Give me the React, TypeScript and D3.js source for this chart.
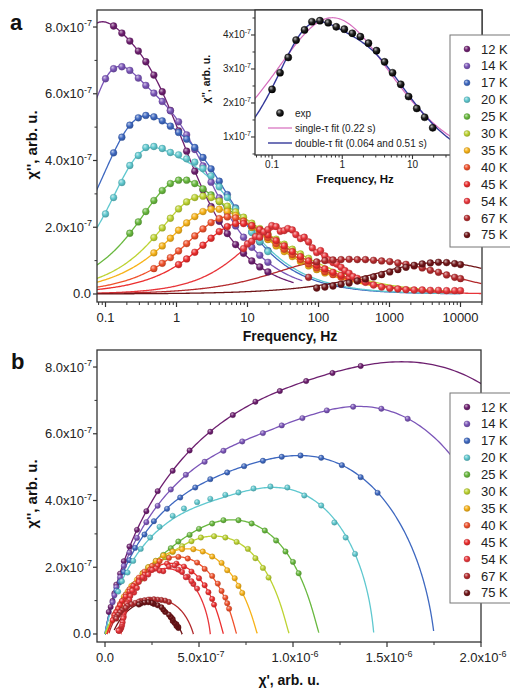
import React from 'react';
import * as d3 from 'd3';

const TEMPS = ['12 K', '14 K', '17 K', '20 K', '25 K', '30 K', '35 K', '40 K', '45 K', '54 K', '67 K', '75 K'];
const COLORS = ['#6d1f6f', '#7b55b8', '#3e68c0', '#5fc8cf', '#68b83e', '#bdd332', '#f7b218', '#f0512b', '#ec2d2d', '#e8353a', '#b3292c', '#6f1417'];

// measurement frequencies (Hz)
const FREQS = [0.1, 0.13, 0.17, 0.22, 0.29, 0.37, 0.48, 0.63, 0.82, 1.07, 1.39, 1.81, 2.36, 3.07, 4.0, 5.2, 6.8, 8.8, 11.5, 14.9, 19.4, 25.3, 32.9, 42.8, 55.7, 72.5, 94.3, 123, 160, 208, 270, 352, 458, 596, 775, 1009, 1313, 1708, 2222, 2891, 3761, 4894, 6367, 8284, 10000];

// chi'' (x1e-7) and chi' (x1e-6) of every measured point; first frequency index in FREQS_START
const Q12 = [8.03, 7.82, 7.58, 7.28, 6.96, 6.56, 6.06, 5.50, 4.89, 4.28, 3.68, 3.12, 2.62, 2.18, 1.81, 1.48, 1.22, 0.99, 0.81, 0.66];
const P12 = [1.36, 1.21, 1.07, 0.93, 0.80, 0.68, 0.56, 0.45, 0.36, 0.28, 0.22, 0.17, 0.13, 0.10, 0.08, 0.06, 0.05, 0.04, 0.03, 0.02];
const Q14 = [6.45, 6.75, 6.81, 6.70, 6.47, 6.25, 6.02, 5.77, 5.49, 5.16, 4.77, 4.33, 3.84, 3.35, 2.88, 2.44, 2.04, 1.70, 1.40, 1.16, 0.95];
const P14 = [1.61, 1.47, 1.32, 1.18, 1.05, 0.94, 0.84, 0.73, 0.63, 0.53, 0.43, 0.35, 0.28, 0.22, 0.17, 0.13, 0.10, 0.08, 0.06, 0.05, 0.04];
const Q17 = [4.23, 4.70, 5.06, 5.28, 5.35, 5.31, 5.19, 5.03, 4.84, 4.64, 4.39, 4.09, 3.75, 3.38, 2.98, 2.58, 2.21, 1.86, 1.56, 1.30];
const P17 = [1.45, 1.36, 1.26, 1.15, 1.04, 0.94, 0.84, 0.74, 0.65, 0.56, 0.48, 0.40, 0.33, 0.26, 0.21, 0.16, 0.13, 0.10, 0.08, 0.06];
const Q20 = [2.40, 2.89, 3.34, 3.85, 4.15, 4.39, 4.42, 4.36, 4.24, 4.17, 4.05, 3.95, 3.76, 3.54, 3.21, 2.89, 2.55, 2.19, 1.84, 1.58, 1.27];
const P20 = [1.33, 1.28, 1.22, 1.15, 1.06, 0.97, 0.88, 0.79, 0.71, 0.64, 0.56, 0.49, 0.42, 0.36, 0.29, 0.24, 0.19, 0.15, 0.12, 0.09, 0.07];
const Q25 = [1.82, 2.16, 2.47, 2.80, 3.10, 3.31, 3.41, 3.41, 3.31, 3.15, 2.97, 2.77, 2.57, 2.37, 2.19, 2.00, 1.82, 1.64, 1.47, 1.32, 1.17];
const P25 = [1.03, 1.00, 0.96, 0.91, 0.85, 0.78, 0.71, 0.63, 0.57, 0.50, 0.45, 0.39, 0.35, 0.31, 0.27, 0.23, 0.20, 0.18, 0.15, 0.13, 0.11];
const Q30 = [1.69, 1.98, 2.27, 2.55, 2.76, 2.89, 2.93, 2.89, 2.78, 2.63, 2.46, 2.30, 2.12, 1.96, 1.80, 1.64, 1.49, 1.34, 1.20, 1.07];
const P30 = [0.87, 0.84, 0.80, 0.76, 0.70, 0.64, 0.58, 0.51, 0.46, 0.41, 0.36, 0.32, 0.28, 0.25, 0.22, 0.19, 0.16, 0.14, 0.12, 0.10];
const Q35 = [1.23, 1.44, 1.67, 1.91, 2.13, 2.32, 2.47, 2.54, 2.54, 2.47, 2.35, 2.19, 2.00, 1.82, 1.63, 1.44, 1.27, 1.12, 0.97, 0.84, 0.73, 0.63];
const P35 = [0.73, 0.71, 0.69, 0.65, 0.62, 0.57, 0.52, 0.47, 0.41, 0.36, 0.31, 0.27, 0.23, 0.20, 0.17, 0.14, 0.12, 0.10, 0.09, 0.08, 0.07, 0.06];
const Q40 = [0.76, 0.92, 1.09, 1.29, 1.51, 1.74, 1.95, 2.14, 2.26, 2.31, 2.28, 2.18, 2.04, 1.87, 1.69, 1.51, 1.34, 1.18, 1.03, 0.90, 0.78, 0.67, 0.58, 0.50];
const P40 = [0.66, 0.65, 0.64, 0.62, 0.60, 0.57, 0.53, 0.49, 0.44, 0.39, 0.34, 0.29, 0.25, 0.21, 0.18, 0.16, 0.13, 0.11, 0.10, 0.08, 0.07, 0.06, 0.05, 0.05];
const Q45 = [0.88, 1.05, 1.25, 1.46, 1.67, 1.87, 2.02, 2.11, 2.11, 2.05, 1.93, 1.77, 1.60, 1.44, 1.27, 1.12, 0.99, 0.86, 0.75, 0.65, 0.56, 0.48, 0.41];
const P45 = [0.58, 0.57, 0.55, 0.53, 0.50, 0.46, 0.42, 0.38, 0.33, 0.28, 0.24, 0.21, 0.18, 0.15, 0.13, 0.11, 0.09, 0.08, 0.07, 0.06, 0.05, 0.05, 0.04];
const Q67 = [0.50, 0.96, 1.00, 1.02, 1.03, 1.04, 1.03, 1.03, 1.01, 0.99, 0.97, 0.93, 0.89, 0.84, 0.78, 0.71, 0.65, 0.57, 0.50, 0.46];
const P67 = [0.35, 0.34, 0.32, 0.30, 0.28, 0.26, 0.24, 0.23, 0.21, 0.19, 0.18, 0.16, 0.14, 0.12, 0.11, 0.09, 0.08, 0.07, 0.06, 0.06];
const Q75 = [0.18, 0.21, 0.24, 0.29, 0.33, 0.39, 0.45, 0.51, 0.58, 0.66, 0.73, 0.80, 0.86, 0.90, 0.93, 0.95, 0.94, 0.91, 0.88];
const P75 = [0.39, 0.39, 0.38, 0.38, 0.37, 0.36, 0.36, 0.35, 0.34, 0.32, 0.31, 0.30, 0.28, 0.26, 0.25, 0.23, 0.21, 0.19, 0.18];
// 54 K: two overlapping sweeps
const F54 = [8.8, 10, 11.5, 13, 14.9, 17, 19.4, 22, 25.3, 29, 32.9, 37, 42.8, 48, 55.7, 63, 72.5, 82, 94.3, 107, 123, 139, 160, 181, 208, 236, 270, 307, 352, 458, 596, 775, 1009, 1313, 1708, 2222, 2891, 3761, 4894, 6367, 8284, 10000];
const Q54 = [1.36, 1.50, 1.58, 1.72, 1.70, 1.86, 1.93, 2.05, 2.02, 1.88, 1.90, 1.96, 1.92, 1.78, 1.66, 1.70, 1.56, 1.38, 1.24, 1.30, 1.14, 1.02, 0.94, 0.90, 0.80, 0.70, 0.62, 0.52, 0.47, 0.35, 0.27, 0.21, 0.17, 0.15, 0.13, 0.12, 0.12, 0.11, 0.11, 0.10, 0.10, 0.10];
const P54 = [0.49, 0.47, 0.46, 0.44, 0.43, 0.41, 0.39, 0.37, 0.34, 0.31, 0.29, 0.27, 0.25, 0.23, 0.21, 0.20, 0.18, 0.17, 0.155, 0.145, 0.135, 0.13, 0.12, 0.115, 0.11, 0.105, 0.10, 0.10, 0.097, 0.094, 0.091, 0.088, 0.085, 0.083, 0.081, 0.079, 0.077, 0.076, 0.075, 0.074, 0.073, 0.072];

const Q_LIST = [Q12, Q14, Q17, Q20, Q25, Q30, Q35, Q40, Q45, Q54, Q67, Q75];
const P_LIST = [P12, P14, P17, P20, P25, P30, P35, P40, P45, P54, P67, P75];
const FREQS_START = [1, 0, 1, 0, 3, 6, 6, 6, 9, -1, 25, 26];

// two-process Cole-Cole fit parameters
const D_SLOW = [1.43e-6, 1.08e-6, 0.95e-6, 0.65e-6, 0.47e-6, 0.40e-6, 0.40e-6, 0.345e-6, 0.31e-6, 0.475e-6, 0.24e-6, 0.37e-6];
const F_SLOW = [0.058, 0.115, 0.25, 0.312, 0.92, 1.77, 2.9, 4.6, 6.9, 28, 100, 5000];
const B_SLOW = [0.88, 0.95, 0.88, 0.95, 0.92, 0.92, 0.85, 0.9, 0.92, 0.88, 0.7, 0.6];
const D_FAST = [1.25e-6, 1.08e-6, 0.80e-6, 0.78e-6, 0.67e-6, 0.58e-6, 0.40e-6, 0.345e-6, 0.31e-6, 0, 0.21e-6, 0];
const F_FAST = [0.46, 0.95, 2.0, 2.49, 4.6, 8.8, 7.3, 11.5, 17.3, 1, 1500, 1];
const B_FAST = [0.8, 0.8, 0.8, 0.78, 0.6, 0.6, 0.62, 0.62, 0.62, 1, 0.7, 1];
const CHI_S = [0, 0, 0, 0, 0, 0, 0.01e-6, 0.01e-6, 0.01e-6, 0.085e-6, 0.02e-6, 0.04e-6];
const FIT_FMAX = [45, 60, 10000, 10000, 10000, 10000, 10000, 10000, 10000, 20000, 20000, 20000];

// inset (20 K): single- and double-tau fits
const SINGLE = [{ d: 16.1e-7, tau: 0.22, b: 0.65 }];
const DOUBLE = [{ d: 6.5e-7, tau: 0.51, b: 0.95 }, { d: 7.8e-7, tau: 0.064, b: 0.78 }];

const FONT = "'Liberation Sans', Arial, Helvetica, sans-serif";

function cc(f: number, d: number, tau: number, b: number): [number, number] {
  const u = Math.pow(2 * Math.PI * f * tau, b);
  const c = Math.cos((b * Math.PI) / 2), s = Math.sin((b * Math.PI) / 2);
  const den = 1 + 2 * u * c + u * u;
  return [(d * (1 + u * c)) / den, (d * u * s) / den];
}
function fit(i: number, f: number): [number, number] {
  const p = cc(f, D_SLOW[i], 1 / (2 * Math.PI * F_SLOW[i]), B_SLOW[i]);
  const q = D_FAST[i] > 0 ? cc(f, D_FAST[i], 1 / (2 * Math.PI * F_FAST[i]), B_FAST[i]) : [0, 0];
  return [CHI_S[i] + p[0] + q[0], p[1] + q[1]];
}
function sumCC(f: number, list: { d: number; tau: number; b: number }[]) {
  return list.reduce((s, p) => s + cc(f, p.d, p.tau, p.b)[1], 0);
}

const A = { l: 97, r: 482, t: 10, b: 302 };
const xA = d3.scaleLog().domain([Math.pow(10, -1.1197), Math.pow(10, 4.3028)]).range([A.l, A.r]);
const yA = d3.scaleLinear().domain([-0.24e-7, 8.51e-7]).range([A.b, A.t]);
const I = { l: 255, r: 482, t: 10, b: 155 };
const xI = d3.scaleLog().domain([Math.pow(10, -1.243), Math.pow(10, 1.99)]).range([I.l, I.r]);
const yI = d3.scaleLinear().domain([0.47e-7, 4.735e-7]).range([I.b, I.t]);
const B = { l: 97, r: 481, t: 350, b: 642 };
const xB = d3.scaleLinear().domain([-0.0426e-6, 2.0e-6]).range([B.l, B.r]);
const yB = d3.scaleLinear().domain([-0.24e-7, 8.51e-7]).range([B.b, B.t]);

const AX = '#333';

function logTicks(lo: number, hi: number) {
  const major: number[] = [], minor: number[] = [];
  for (let e = -3; e <= 5; e++) {
    for (let m = 1; m < 10; m++) {
      const v = m * Math.pow(10, e);
      if (v >= lo * 0.999 && v <= hi * 1.001) (m === 1 ? major : minor).push(v);
    }
  }
  return { major, minor };
}

function SciLabel({ x, y, m, e, anchor, fs, sfs }: any) {
  return (
    <text x={x} y={y} textAnchor={anchor} fontSize={fs} fill="#222">
      {m}
      <tspan dy={-fs * 0.42} fontSize={sfs}>{e}</tspan>
    </text>
  );
}

function Marker({ cx, cy, r, i, black }: any) {
  return <circle cx={cx} cy={cy} r={r} fill={black ? 'url(#gblack)' : `url(#g${i})`} stroke={black ? '#000' : d3.color(COLORS[i])!.darker(0.7).toString()} strokeWidth={0.4} />;
}

function Legend({ x, y, h }: any) {
  return (
    <g>
      <rect x={x} y={y} width={90} height={h} fill="#fff" stroke="#777" strokeWidth={1} />
      {TEMPS.map((t, i) => (
        <g key={t}>
          <Marker cx={x + 17} cy={y + 14 + i * 16.9} r={3} i={i} />
          <text x={x + 31} y={y + 18.5 + i * 16.9} fontSize={13} fill="#222">{t}</text>
        </g>
      ))}
    </g>
  );
}

export default function App() {
  const ytA = [0, 2e-7, 4e-7, 6e-7, 8e-7];
  const ytAm = [1e-7, 3e-7, 5e-7, 7e-7];
  const lA = logTicks(xA.domain()[0], xA.domain()[1]);
  const lI = logTicks(xI.domain()[0], xI.domain()[1]);

  const sampA = d3.range(0, 401).map((j) => Math.pow(10, -1.13 + (j * (4.32 + 1.13)) / 400));
  const sampB = d3.range(0, 801).map((j) => Math.pow(10, -3 + (j * 9) / 800));
  const sampI = d3.range(0, 201).map((j) => Math.pow(10, -1.26 + (j * 3.3) / 200));

  const lineA = d3.line<number[]>().x((d) => xA(d[0])).y((d) => yA(d[1]));
  const lineB = d3.line<number[]>().x((d) => xB(d[0])).y((d) => yB(d[1]));
  const lineI = d3.line<number[]>().x((d) => xI(d[0])).y((d) => yI(d[1]));

  // points: [frequency, chi', chi'']
  const points = TEMPS.map((_, i) => Q_LIST[i].map((q, j) => {
    const f = FREQS_START[i] < 0 ? F54[j] : FREQS[FREQS_START[i] + j];
    return [f, P_LIST[i][j] * 1e-6, q * 1e-7];
  }));

  const singleCurve = sampI.map((f) => [f, sumCC(f, SINGLE)]);
  const doubleCurve = sampI.map((f) => [f, sumCC(f, DOUBLE)]);

  return (
    <svg width={510} height={689} style={{ position: 'absolute', left: 0, top: 0, background: '#fff' }} fontFamily={FONT}>
      <defs>
        {COLORS.map((c, i) => (
          <radialGradient key={i} id={`g${i}`} cx="40%" cy="38%" r="62%" fx="35%" fy="30%">
            <stop offset="0%" stopColor={d3.interpolateRgb(c, '#fff')(0.65)} />
            <stop offset="55%" stopColor={c} />
            <stop offset="100%" stopColor={d3.color(c)!.darker(0.6).toString()} />
          </radialGradient>
        ))}
        <radialGradient id="gblack" cx="40%" cy="38%" r="62%" fx="35%" fy="30%">
          <stop offset="0%" stopColor="#bbb" />
          <stop offset="50%" stopColor="#222" />
          <stop offset="100%" stopColor="#000" />
        </radialGradient>
        <clipPath id="clipA"><rect x={A.l} y={A.t} width={A.r - A.l} height={A.b - A.t} /></clipPath>
        <clipPath id="clipB"><rect x={B.l} y={B.t} width={B.r - B.l} height={B.b - B.t} /></clipPath>
        <clipPath id="clipI"><rect x={I.l} y={I.t} width={I.r - I.l} height={I.b - I.t} /></clipPath>
      </defs>

      <text x={10} y={30} fontSize={22} fontWeight="bold" fill="#111">a</text>
      <g clipPath="url(#clipA)">
        {TEMPS.map((_, i) => {
          const pts = sampA.filter((f) => f <= FIT_FMAX[i]).map((f) => [f, fit(i, f)[1]]);
          return <path key={i} d={lineA(pts)!} fill="none" stroke={COLORS[i]} strokeWidth={1.3} />;
        })}
        {points.map((ms, i) => ms.map((m, j) => <Marker key={`${i}-${j}`} cx={xA(m[0])} cy={yA(m[2])} r={3.4} i={i} />))}
      </g>
      <rect x={A.l} y={A.t} width={A.r - A.l} height={A.b - A.t} fill="none" stroke={AX} strokeWidth={1.3} />
      {ytA.map((v) => (
        <g key={v}>
          <line x1={A.l - 4} x2={A.l} y1={yA(v)} y2={yA(v)} stroke={AX} strokeWidth={1.2} />
          {v === 0 ? (
            <text x={91} y={yA(v) + 4.5} textAnchor="end" fontSize={13} fill="#222">0.0</text>
          ) : (
            <SciLabel x={92} y={yA(v) + 4.5} m={`${(v * 1e7).toFixed(1)}x10`} e="-7" anchor="end" fs={13} sfs={9} />
          )}
        </g>
      ))}
      {ytAm.map((v) => <line key={v} x1={A.l - 2.5} x2={A.l} y1={yA(v)} y2={yA(v)} stroke={AX} strokeWidth={1} />)}
      {lA.major.map((v) => (
        <g key={v}>
          <line x1={xA(v)} x2={xA(v)} y1={A.b} y2={A.b + 5} stroke={AX} strokeWidth={1.2} />
          <text x={xA(v)} y={A.b + 20} textAnchor="middle" fontSize={13} fill="#222">{v < 1 ? v.toString() : d3.format('d')(v)}</text>
        </g>
      ))}
      {lA.minor.map((v) => <line key={v} x1={xA(v)} x2={xA(v)} y1={A.b} y2={A.b + 3} stroke={AX} strokeWidth={1} />)}
      <text x={290} y={341} textAnchor="middle" fontSize={14} fontWeight="bold" fill="#111">Frequency, Hz</text>
      <text transform="translate(37,145) rotate(-90)" textAnchor="middle" fontSize={15} fontWeight="bold" fill="#111">χ'', arb. u.</text>

      <rect x={I.l} y={I.t} width={I.r - I.l} height={I.b - I.t} fill="#fff" />
      <g clipPath="url(#clipI)">
        <path d={lineI(singleCurve)!} fill="none" stroke="#d56bbd" strokeWidth={1.2} />
        <path d={lineI(doubleCurve)!} fill="none" stroke="#34389a" strokeWidth={1.4} />
        {Q20.map((v, k) => <Marker key={k} cx={xI(FREQS[k])} cy={yI(v * 1e-7)} r={3.6} black />)}
      </g>
      <rect x={I.l} y={I.t} width={I.r - I.l} height={I.b - I.t} fill="none" stroke={AX} strokeWidth={1.3} />
      {[1, 2, 3, 4].map((v) => (
        <g key={v}>
          <line x1={I.l - 4} x2={I.l} y1={yI(v * 1e-7)} y2={yI(v * 1e-7)} stroke={AX} strokeWidth={1.1} />
          <SciLabel x={251} y={yI(v * 1e-7) + 3.5} m={`${v}x10`} e="-7" anchor="end" fs={10} sfs={7} />
        </g>
      ))}
      {[0.5, 1.5, 2.5, 3.5, 4.5].map((v) => <line key={v} x1={I.l - 2.5} x2={I.l} y1={yI(v * 1e-7)} y2={yI(v * 1e-7)} stroke={AX} strokeWidth={1} />)}
      {lI.major.map((v) => (
        <g key={v}>
          <line x1={xI(v)} x2={xI(v)} y1={I.b} y2={I.b + 4} stroke={AX} strokeWidth={1.1} />
          <text x={xI(v)} y={I.b + 12.5} textAnchor="middle" fontSize={10} fill="#222">{v.toString()}</text>
        </g>
      ))}
      {lI.minor.map((v) => <line key={v} x1={xI(v)} x2={xI(v)} y1={I.b} y2={I.b + 2.5} stroke={AX} strokeWidth={1} />)}
      <text x={355} y={183} textAnchor="middle" fontSize={11.5} fontWeight="bold" fill="#111">Frequency, Hz</text>
      <text transform="translate(210,79) rotate(-90)" textAnchor="middle" fontSize={10.5} fontWeight="bold" fill="#111">χ'', arb. u.</text>
      <Marker cx={280} cy={113} r={3.6} black />
      <text x={295} y={116.5} fontSize={10} fill="#222">exp</text>
      <line x1={268} x2={292} y1={128} y2={128} stroke="#d56bbd" strokeWidth={1.2} />
      <text x={295} y={131.5} fontSize={10} fill="#222">single-τ fit (0.22 s)</text>
      <line x1={268} x2={292} y1={143} y2={143} stroke="#34389a" strokeWidth={1.4} />
      <text x={295} y={146.5} fontSize={10} fill="#222">double-τ fit (0.064 and 0.51 s)</text>

      <Legend x={450} y={35} h={212} />

      <text x={11} y={369} fontSize={22} fontWeight="bold" fill="#111">b</text>
      <g clipPath="url(#clipB)">
        {TEMPS.map((_, i) => {
          const pts = sampB.map((f) => fit(i, f));
          return <path key={i} d={lineB(pts)!} fill="none" stroke={COLORS[i]} strokeWidth={1.3} />;
        })}
        {points.map((ms, i) => ms.map((m, j) => <Marker key={`${i}-${j}`} cx={xB(m[1])} cy={yB(m[2])} r={2.7} i={i} />))}
      </g>
      <rect x={B.l} y={B.t} width={B.r - B.l} height={B.b - B.t} fill="none" stroke={AX} strokeWidth={1.3} />
      {ytA.map((v) => (
        <g key={v}>
          <line x1={B.l - 4} x2={B.l} y1={yB(v)} y2={yB(v)} stroke={AX} strokeWidth={1.2} />
          {v === 0 ? (
            <text x={91} y={yB(v) + 4.5} textAnchor="end" fontSize={13} fill="#222">0.0</text>
          ) : (
            <SciLabel x={92} y={yB(v) + 4.5} m={`${(v * 1e7).toFixed(1)}x10`} e="-7" anchor="end" fs={13} sfs={9} />
          )}
        </g>
      ))}
      {ytAm.map((v) => <line key={v} x1={B.l - 2.5} x2={B.l} y1={yB(v)} y2={yB(v)} stroke={AX} strokeWidth={1} />)}
      {[0, 0.5e-6, 1e-6, 1.5e-6, 2e-6].map((v, k) => (
        <g key={v}>
          <line x1={xB(v)} x2={xB(v)} y1={B.b} y2={B.b + 5} stroke={AX} strokeWidth={1.2} />
          {v === 0 ? (
            <text x={xB(v)} y={B.b + 20} textAnchor="middle" fontSize={13} fill="#222">0.0</text>
          ) : (
            <SciLabel x={xB(v) + 2} y={B.b + 20} m={`${(k < 2 ? v * 1e7 : v * 1e6).toFixed(1)}x10`} e={k < 2 ? '-7' : '-6'} anchor="middle" fs={13} sfs={9} />
          )}
        </g>
      ))}
      {[0.25e-6, 0.75e-6, 1.25e-6, 1.75e-6].map((v) => <line key={v} x1={xB(v)} x2={xB(v)} y1={B.b} y2={B.b + 3} stroke={AX} strokeWidth={1} />)}
      <text x={289} y={685} textAnchor="middle" fontSize={14} fontWeight="bold" fill="#111">χ', arb. u.</text>
      <text transform="translate(37,494) rotate(-90)" textAnchor="middle" fontSize={15} fontWeight="bold" fill="#111">χ'', arb. u.</text>

      <Legend x={450} y={393} h={210} />
    </svg>
  );
}
